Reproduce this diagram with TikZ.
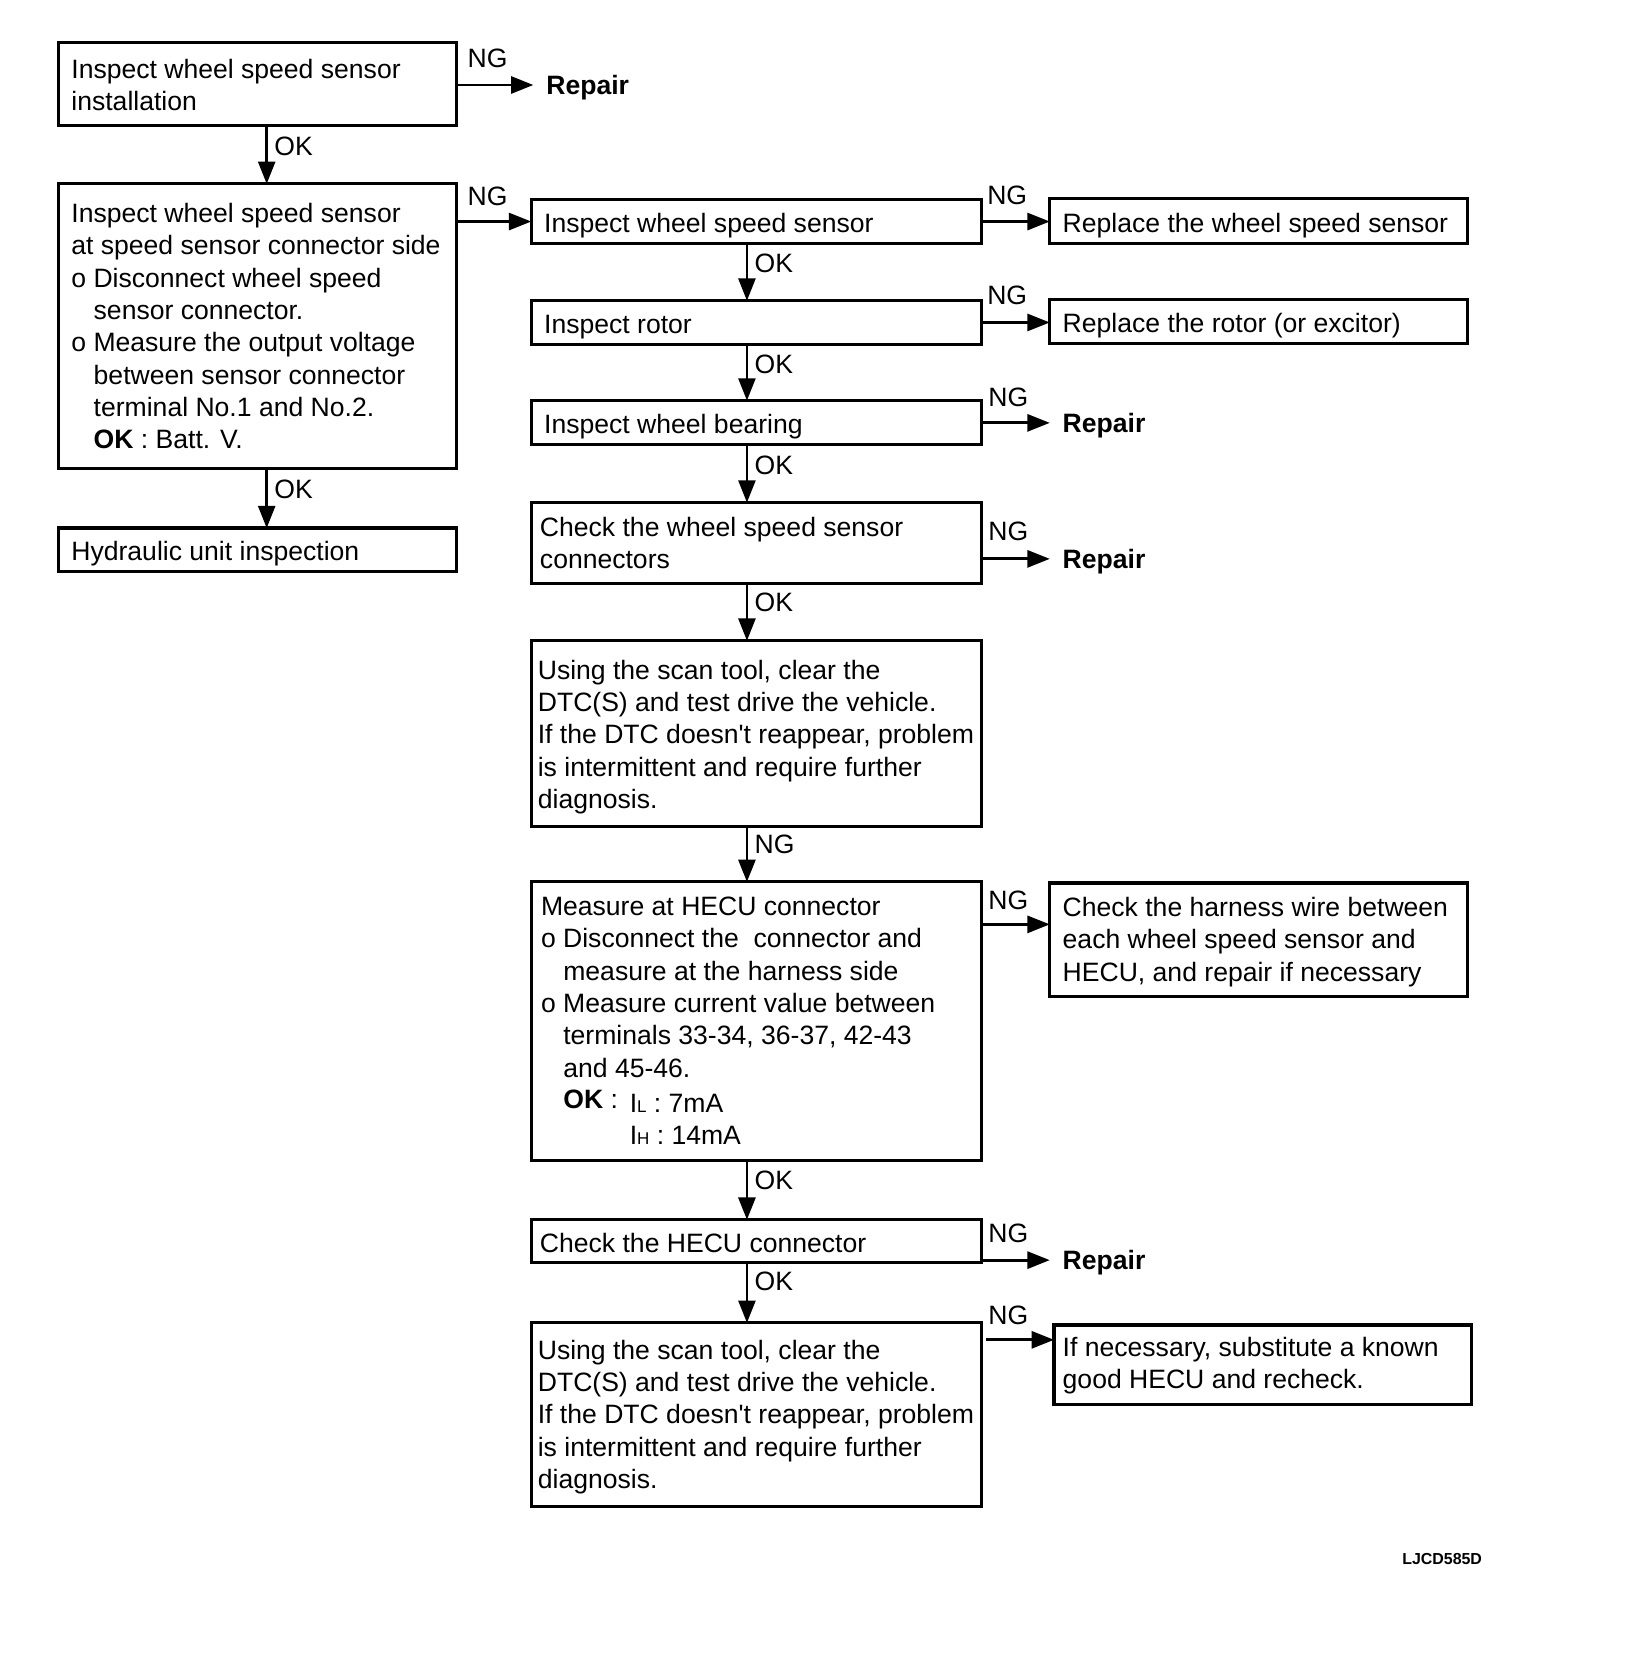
\documentclass[tikz,border=0pt]{standalone}
\usepackage{fontspec}
\setmainfont{Liberation Sans}
\usetikzlibrary{arrows.meta}
\newcommand{\fsz}{\fontsize{25}{30.4}\selectfont}
\newcommand{\ind}{\hspace*{21pt}}
\newcommand{\subl}[1]{{\fontsize{16}{16}\selectfont #1}}
\begin{document}
\begin{tikzpicture}[x=1pt,y=-1pt,
  box/.style={draw, line width=3pt, inner sep=0pt, outer sep=0pt},
  txt/.style={inner sep=0pt, anchor=west, align=left, font=\fsz},
  one/.style={txt, yshift=-4pt},
  lbl/.style={inner sep=0pt, anchor=west, font=\fsz},
  rep/.style={inner xsep=12pt, inner ysep=0pt, text depth=0pt, anchor=west, font=\fsz\bfseries},
  arr/.style={line width=2.6pt, -{Triangle[length=21pt,width=16pt]}}]
\useasboundingbox (0,0) rectangle (1536,1568);

% boxes
\node[box, minimum width=375pt, minimum height=78pt]  (A) at (242.5,79) {};
\node[box, minimum width=375pt, minimum height=268pt] (B) at (242.5,307) {};
\node[box, minimum width=375pt, minimum height=41pt]  (D) at (242.5,517.5) {};
\node[box, minimum width=424pt, minimum height=41pt]  (C) at (712,208.5) {};
\node[box, minimum width=393pt, minimum height=42pt]  (E) at (1184.5,208) {};
\node[box, minimum width=424pt, minimum height=41pt]  (F) at (712,303.5) {};
\node[box, minimum width=393pt, minimum height=41pt]  (G) at (1184.5,302.5) {};
\node[box, minimum width=424pt, minimum height=41pt]  (H) at (712,397.5) {};
\node[box, minimum width=424pt, minimum height=76pt]  (I) at (712,511) {};
\node[box, minimum width=424pt, minimum height=175pt] (J) at (712,690.5) {};
\node[box, minimum width=424pt, minimum height=262pt] (K) at (712,961) {};
\node[box, minimum width=393pt, minimum height=107pt] (L) at (1184.5,884.5) {};
\node[box, minimum width=424pt, minimum height=40pt]  (M) at (712,1168) {};
\node[box, minimum width=424pt, minimum height=173pt] (N) at (712,1331.5) {};
\node[box, minimum width=393pt, minimum height=75pt]  (O) at (1188.5,1284.5) {};

% texts
\node[txt] (At) at ([xshift=12pt,yshift=-1pt]A.west) {Inspect wheel speed sensor\\installation};
\node[txt] (Bt) at ([xshift=12pt]B.west) {Inspect wheel speed sensor\\at speed sensor connector side\\o Disconnect wheel speed\\\ind sensor connector.\\o Measure the output voltage\\\ind between sensor connector\\\ind terminal No.1 and No.2.\\\ind\textbf{OK} : Batt. V.};
\node[one] (Dt) at ([xshift=12pt]D.west) {Hydraulic unit inspection};
\node[one] (Ct) at ([xshift=12pt]C.west) {Inspect wheel speed sensor};
\node[one] (Et) at ([xshift=12pt]E.west) {Replace the wheel speed sensor};
\node[one] (Ft) at ([xshift=12pt]F.west) {Inspect rotor};
\node[one] (Gt) at ([xshift=12pt]G.west) {Replace the rotor (or excitor)};
\node[one] (Ht) at ([xshift=12pt]H.west) {Inspect wheel bearing};
\node[txt] (It) at ([xshift=8pt]I.west) {Check the wheel speed sensor\\connectors};
\node[txt] (Jt) at ([xshift=6pt,yshift=-3pt]J.west) {Using the scan tool, clear the\\DTC(S) and test drive the vehicle.\\If the DTC doesn\textquotesingle t reappear, problem\\is intermittent and require further\\diagnosis.};
\node[txt] (Kt) at ([xshift=9pt]K.west) {Measure at HECU connector\\o Disconnect the\ \ connector and\\\ind measure at the harness side\\o Measure current value between\\\ind terminals 33-34, 36-37, 42-43\\\ind and 45-46.\\[3pt]\ind\raisebox{4pt}{\textbf{OK} :} \,I\subl{L} : 7mA\\\ind\phantom{\textbf{OK} :} \,I\subl{H} : 14mA};
\node[txt] (Lt) at ([xshift=12pt,yshift=-2pt]L.west) {Check the harness wire between\\each wheel speed sensor and\\HECU, and repair if necessary};
\node[one] (Mt) at ([xshift=8pt,yshift=2pt]M.west) {Check the HECU connector};
\node[txt] (Nt) at ([xshift=6pt,yshift=-2pt]N.west) {Using the scan tool, clear the\\DTC(S) and test drive the vehicle.\\If the DTC doesn\textquotesingle t reappear, problem\\is intermittent and require further\\diagnosis.};
\node[txt] (Ot) at ([xshift=8pt,yshift=-1pt]O.west) {If necessary, substitute a known\\good HECU and recheck.};

% repair targets
\node[rep] (R1) at (502,80) {Repair};
\node[rep] (R2) at (988,398) {Repair};
\node[rep] (R3) at (988,526) {Repair};
\node[rep] (R4) at (988,1186) {Repair};

% helper coordinates
\coordinate (cl) at (251,0);
\coordinate (cr) at (703,0);
\coordinate (yK) at (0,870);
\coordinate (yN) at (0,1261);
\coordinate (Ne) at ([xshift=4pt]N.east);

% vertical connectors
\draw[arr] (A.south -| cl) -- (B.north -| cl);
\draw[arr] (B.south -| cl) -- (D.north -| cl);
\draw[arr] (C.south -| cr) -- (F.north -| cr);
\draw[arr] (F.south -| cr) -- (H.north -| cr);
\draw[arr] (H.south -| cr) -- (I.north -| cr);
\draw[arr] (I.south -| cr) -- (J.north -| cr);
\draw[arr] (J.south -| cr) -- (K.north -| cr);
\draw[arr] (K.south -| cr) -- (M.north -| cr);
\draw[arr] (M.south -| cr) -- (N.north -| cr);

% horizontal connectors
\draw[arr] (A.east |- R1.west) -- (R1.west);
\draw[arr] (B.east |- C.west) -- (C.west);
\draw[arr] (C.east) -- (C.east -| E.west);
\draw[arr] (F.east) -- (F.east -| G.west);
\draw[arr] (H.east |- R2.west) -- (R2.west);
\draw[arr] (I.east |- R3.west) -- (R3.west);
\draw[arr] (K.east |- yK) -- (L.west |- yK);
\draw[arr] (M.east |- R4.west) -- (R4.west);
\draw[arr] (Ne |- yN) -- (O.west |- yN);

% labels
\node[lbl] (okA) at (258,138) {OK};
\node[lbl] (okB) at (258,461) {OK};
\node[lbl] (okC) at (710,248) {OK};
\node[lbl] (okF) at (710,343) {OK};
\node[lbl] (okH) at (710,438) {OK};
\node[lbl] (okI) at (710,567) {OK};
\node[lbl] (ngJ) at (710,795) {NG};
\node[lbl] (okK) at (710,1111) {OK};
\node[lbl] (okM) at (710,1206) {OK};

\node[lbl] (ngA) at (440,55) {NG};
\node[lbl] (ngB) at (440,185) {NG};
\node[lbl] (ngC) at (929,184) {NG};
\node[lbl] (ngF) at (929,278) {NG};
\node[lbl] (ngH) at (930,374) {NG};
\node[lbl] (ngI) at (930,500) {NG};
\node[lbl] (ngK) at (930,847) {NG};
\node[lbl] (ngM) at (930,1161) {NG};
\node[lbl] (ngN) at (930,1238) {NG};

\node[inner sep=0pt, anchor=east, font=\fontsize{15}{15}\selectfont\bfseries] (code) at (1395,1467) {LJCD585D};
\end{tikzpicture}
\end{document}
